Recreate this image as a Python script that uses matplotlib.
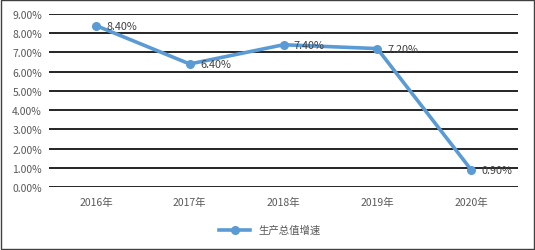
import matplotlib.pyplot as plt
from matplotlib.ticker import FuncFormatter

plt.rcParams['font.family'] = ['Noto Sans CJK SC', 'DejaVu Sans']

years = ["2016年", "2017年", "2018年", "2019年", "2020年"]
growth = [8.40, 6.40, 7.40, 7.20, 0.90]
series_name = "生产总值增速"

fig = plt.figure(figsize=(5.35, 2.51), dpi=100)
ax = fig.add_axes([49 / 535, 1 - 188 / 251, 469 / 535, 173 / 251])

x = list(range(len(years)))
ax.plot(x, growth, color="#5B9BD5", lw=2.6, marker="o", ms=5.5, label=series_name, zorder=3)
for xi, v in zip(x, growth):
    ax.annotate(f"{v:.2f}%", (xi, v), xytext=(7.5, 0), textcoords="offset points",
                ha="left", va="center", fontsize=7.8, color="#404040", zorder=4)

ax.set_xlim(-0.5, len(years) - 0.5)
ax.set_ylim(0, 9)
ax.set_yticks([i for i in range(10)])
ax.yaxis.set_major_formatter(FuncFormatter(lambda v, p: f"{v:.2f}%"))
ax.set_xticks(x)
ax.set_xticklabels(years)
ax.tick_params(axis="both", length=0, labelsize=7.5, labelcolor="#595959")
ax.tick_params(axis="x", pad=7)
ax.tick_params(axis="y", pad=5)
ax.grid(axis="y", color="black", lw=1.2)
ax.set_axisbelow(True)
for s in ax.spines.values():
    s.set_visible(False)

fig.legend(loc="center", bbox_to_anchor=(270 / 535, 1 - 231 / 251), frameon=False,
           fontsize=7.5, labelcolor="#595959", handlelength=3)

border = plt.Rectangle((0.002, 0.004), 0.996, 0.992, transform=fig.transFigure,
                       fill=False, edgecolor="#404040", lw=1)
fig.patches.append(border)

fig.savefig("out.png", dpi=100)
